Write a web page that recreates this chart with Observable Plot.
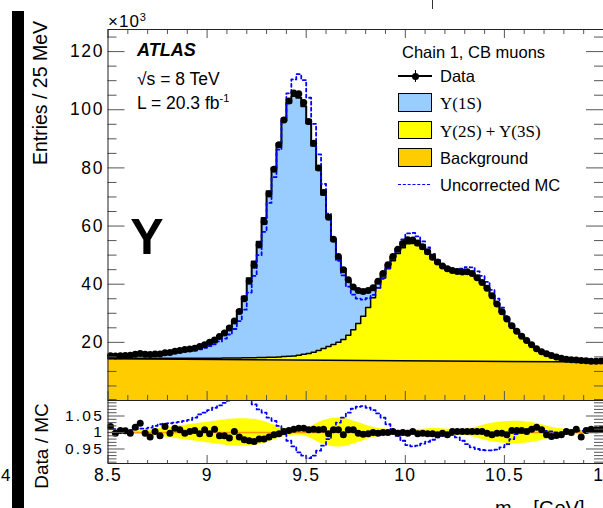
<!DOCTYPE html>
<html><head><meta charset="utf-8">
<script src="https://cdn.jsdelivr.net/npm/d3@7"></script>
<script src="https://cdn.jsdelivr.net/npm/@observablehq/plot@0.6"></script>
<style>
body{margin:0;background:#fff;}
#wrap{position:relative;width:603px;height:508px;overflow:hidden;background:#fff;font-family:"Liberation Sans",Arial,sans-serif;color:#000;}
.abs{position:absolute;white-space:nowrap;line-height:1;}
.plot{position:absolute;left:0;}
#mainp g[aria-label="y-axis tick label"] text{letter-spacing:1.6px;}
#ratiop g[aria-label="y-axis tick label"] text{letter-spacing:2.2px;}
.plot g[aria-label="x-axis tick label"] text{letter-spacing:1.2px;}
</style></head><body><div id="wrap"></div>
<script>
// ---- data (thousands of entries per 25 MeV bin, 8.5 - 11 GeV) ----
const binStart = 8.5, binWidth = 0.025;
const dataCounts = [15.4,15.3,15.4,15.5,15.6,15.9,16.2,15.9,15.8,16.0,
16.0,16.4,16.5,16.9,17.2,17.5,17.7,18.0,18.6,19.2,
20.0,20.8,22.0,23.2,24.9,27.3,30.6,35.0,41.0,46.5,
53.5,61.5,71.0,79.5,88.0,96.5,103.0,105.8,105.5,102.5,
96.0,88.5,80.0,71.5,63.0,55.5,49.5,45.0,41.5,39.0,
37.8,37.5,37.8,38.8,41.0,43.7,46.7,49.5,52.0,54.0,
55.3,55.2,54.2,52.9,51.2,49.3,47.6,46.3,45.3,44.7,
44.4,44.2,44.3,43.7,42.2,40.6,38.6,36.0,33.2,30.5,
28.0,25.7,23.8,22.1,20.6,19.2,17.8,16.8,16.1,15.5,
15.0,14.5,14.2,14.0,13.9,13.8,13.7,13.5,13.5,13.6];
// data / MC ratio
const ratioDataMC = [1.018,0.998,1.006,1.005,0.998,1.016,1.028,0.998,0.986,1.003,
0.990,1.018,0.998,1.013,1.008,0.998,1.003,1.006,0.996,1.008,
0.996,1.010,0.990,0.990,0.983,1.003,0.986,0.978,0.975,0.973,
0.980,0.980,0.986,0.993,0.996,1.003,1.006,1.010,1.013,1.013,
1.008,1.010,1.008,1.010,0.996,1.008,1.008,0.993,1.008,1.008,
0.998,0.995,0.996,1.000,0.998,1.000,1.000,1.003,0.998,1.000,
0.998,1.003,0.996,0.998,0.996,0.996,0.993,0.998,0.993,1.003,
1.003,1.003,1.003,1.003,1.003,1.003,0.998,0.993,0.998,0.998,
0.993,1.006,1.006,1.006,1.003,1.010,1.016,1.008,0.993,0.988,
0.991,0.993,1.003,1.000,1.010,0.986,1.006,1.010,1.008,1.010];
// top of the Upsilon(2S)+Upsilon(3S) stack (background + 2S + 3S)
const yellowTop = [14.5,14.5,14.5,14.5,14.5,14.5,14.5,14.5,14.5,14.5,
14.5,14.5,14.5,14.5,14.5,14.5,14.5,14.5,14.5,14.5,
14.5,14.5,14.5,14.6,14.6,14.6,14.6,14.7,14.7,14.7,
14.8,14.8,14.9,14.9,15.0,15.1,15.2,15.3,15.6,15.9,
16.2,16.6,17.2,17.9,18.6,19.3,20.0,21.0,22.4,24.3,
26.5,29.0,32.0,35.3,38.8,42.1,45.3,48.1,50.6,52.5,
53.9,54.0,53.3,52.1,50.5,48.7,47.1,45.8,44.9,44.3,
44.0,43.8,43.9,43.4,41.9,40.3,38.4,35.8,33.0,30.3,
27.8,25.5,23.6,21.9,20.4,19.0,17.6,16.6,15.9,15.3,
14.8,14.3,14.0,13.8,13.7,13.6,13.45,13.35,13.3,13.25];
// data / uncorrected MC
const ratioUncorr = [1.015,1.01,1.008,1.008,1.008,1.01,1.012,1.012,1.015,1.02,
1.025,1.027,1.028,1.03,1.032,1.035,1.038,1.045,1.055,1.06,
1.068,1.075,1.082,1.09,1.097,1.11,1.12,1.12,1.105,1.085,
1.07,1.06,1.045,1.035,1.02,0.995,0.975,0.958,0.94,0.93,
0.922,0.93,0.945,0.96,0.98,1.005,1.03,1.045,1.06,1.072,
1.078,1.08,1.075,1.068,1.058,1.045,1.025,1.005,0.99,0.975,
0.962,0.958,0.96,0.966,0.972,0.978,0.985,0.99,0.995,0.992,
0.985,0.975,0.965,0.955,0.95,0.947,0.946,0.946,0.948,0.955,
0.965,0.98,0.995,1.005,1.008,1.01,1.01,1.008,1.005,1.003,
1.0,1.0,1.002,1.003,1.005,1.005,1.005,1.008,1.01,1.01];
// MC uncertainty band half-width in the ratio
const bandErr = [0.004,0.004,0.004,0.004,0.005,0.005,0.005,0.006,0.008,0.010,
0.012,0.014,0.016,0.018,0.020,0.022,0.024,0.026,0.028,0.030,
0.032,0.034,0.036,0.038,0.040,0.041,0.042,0.042,0.041,0.040,
0.037,0.033,0.028,0.023,0.018,0.013,0.010,0.008,0.008,0.010,
0.015,0.022,0.030,0.036,0.040,0.043,0.044,0.043,0.040,0.035,
0.030,0.025,0.020,0.016,0.013,0.011,0.009,0.008,0.008,0.008,
0.008,0.008,0.009,0.010,0.011,0.012,0.012,0.011,0.010,0.009,
0.008,0.008,0.010,0.013,0.017,0.021,0.025,0.028,0.030,0.032,
0.033,0.034,0.034,0.033,0.032,0.030,0.027,0.024,0.020,0.016,
0.013,0.011,0.009,0.008,0.007,0.007,0.006,0.006,0.006,0.006];
// background line end points
const bkgMass = [8.5, 11.0];
const bkgLevel = [14.4, 13.2];
// tick labels
const xTickLabels = [8.5, 9, 9.5, 10, 10.5, 11];
const yMainTickLabels = [20, 40, 60, 80, 100, 120];
const yRatioTickLabels = [0.95, 1, 1.05];

// ---- derived tables ----
const bins = dataCounts.map((d, i) => ({
  lo: binStart + i * binWidth, hi: binStart + (i + 1) * binWidth, c: binStart + (i + 0.5) * binWidth,
  data: d, mc: d / ratioDataMC[i], yel: yellowTop[i], unc: d / ratioUncorr[i],
  r: ratioDataMC[i], ur: ratioUncorr[i], err: bandErr[i]
}));
const steps = key => bins.flatMap(b => [{x: b.lo, y: b[key]}, {x: b.hi, y: b[key]}]);
const bkg = bkgMass.map((m, i) => ({x: m, y: bkgLevel[i]}));
const xMinor = d3.range(8.6, 11.0, 0.1).map(v => +v.toFixed(2)).filter(v => !xTickLabels.includes(v));
const yMainMinor = d3.range(5, 127, 5).filter(v => v % 20 !== 0);
const yRatioMinor = d3.range(0.91, 1.10, 0.01).map(v => +v.toFixed(2)).filter(v => !yRatioTickLabels.includes(v));

const W = 603, ML = 107.5;
const PW = W - ML;
const tickCol = "#555";
const font = {fontFamily: "Liberation Sans, Arial, sans-serif", fontSize: "18px", color: "#000", background: "transparent", overflow: "visible"};

// ---- main panel ----
const mainTop = 29, mainH = 371;
const main = Plot.plot({
  width: W, height: mainTop + mainH + 1, marginLeft: ML, marginRight: 0, marginTop: mainTop, marginBottom: 1,
  x: {domain: [8.5, 11], axis: null}, y: {domain: [0, 127.6]},
  style: font,
  marks: [
    Plot.areaY(steps("mc"), {x: "x", y1: 0, y2: "y", fill: "#99ccff"}),
    Plot.areaY(steps("yel"), {x: "x", y1: 0, y2: "y", fill: "#ffff00"}),
    Plot.areaY(bkg, {x: "x", y1: 0, y2: "y", fill: "#ffcc00"}),
    Plot.line(steps("yel"), {x: "x", y: "y", stroke: "#000", strokeWidth: 1.5}),
    Plot.line(bkg, {x: "x", y: "y", stroke: "#000", strokeWidth: 1.5}),
    Plot.line(steps("mc"), {x: "x", y: "y", stroke: "#000", strokeWidth: 2}),
    Plot.line(steps("unc"), {x: "x", y: "y", stroke: "#0000ff", strokeWidth: 1.8, strokeDasharray: "3,3"}),
    Plot.dot(bins, {x: "c", y: "data", r: 3.5, fill: "#000"}),
    Plot.ruleX(xTickLabels, {insetTop: mainH - 9, stroke: tickCol}),
    Plot.ruleX(xMinor, {insetTop: mainH - 5, stroke: tickCol}),
    Plot.ruleX(xTickLabels, {insetBottom: mainH - 9, stroke: tickCol}),
    Plot.ruleX(xMinor, {insetBottom: mainH - 5, stroke: tickCol}),
    Plot.ruleY(yMainTickLabels, {insetRight: PW - 17, stroke: tickCol}),
    Plot.ruleY(yMainMinor, {insetRight: PW - 9, stroke: tickCol}),
    Plot.ruleY(yMainTickLabels, {insetLeft: PW - 17, stroke: tickCol}),
    Plot.ruleY(yMainMinor, {insetLeft: PW - 9, stroke: tickCol}),
    Plot.frame({stroke: "#222"}),
    Plot.axisY(yMainTickLabels, {tickSize: 0, tickPadding: 4, label: null, fontSize: 17.5})
  ]
});
main.classList.add("plot"); main.id = "mainp"; main.style.top = "0px";

// ---- ratio panel ----
const rTop = 400, rH = 63, rBottom = 45;
const ratio = Plot.plot({
  width: W, height: rH + rBottom, marginLeft: ML, marginRight: 0, marginTop: 0, marginBottom: rBottom,
  x: {domain: [8.5, 11]}, y: {domain: [0.906, 1.097]},
  style: font,
  marks: [
    Plot.areaY(bins, {x: "c", y1: d => 1 - d.err, y2: d => 1 + d.err, fill: "#ffff00"}),
    Plot.ruleY([1], {stroke: "#ff9900", strokeWidth: 1.5}),
    Plot.line(steps("ur"), {x: "x", y: "y", stroke: "#0000ff", strokeWidth: 1.8, strokeDasharray: "3,3", clip: true}),
    Plot.dot(bins, {x: "c", y: "r", r: 3.5, fill: "#000", clip: true}),
    Plot.ruleX(xTickLabels, {insetTop: rH - 8, stroke: tickCol}),
    Plot.ruleX(xMinor, {insetTop: rH - 3, stroke: tickCol}),
    Plot.ruleY(yRatioTickLabels, {insetRight: PW - 17, stroke: tickCol}),
    Plot.ruleY(yRatioMinor, {insetRight: PW - 9, stroke: tickCol}),
    Plot.ruleY(yRatioTickLabels, {insetLeft: PW - 17, stroke: tickCol}),
    Plot.ruleY(yRatioMinor, {insetLeft: PW - 9, stroke: tickCol}),
    Plot.frame({stroke: "#222"}),
    Plot.axisY(yRatioTickLabels, {tickSize: 0, tickPadding: 4, label: null, fontSize: 15.5, tickFormat: d => String(d)}),
    Plot.axisX(xTickLabels, {tickSize: 0, tickPadding: 5, label: null, fontSize: 17.5, tickFormat: d => String(d)})
  ]
});
ratio.classList.add("plot"); ratio.id = "ratiop"; ratio.style.top = rTop + "px";

const wrap = document.getElementById("wrap");
wrap.appendChild(main);
wrap.appendChild(ratio);

// ---- annotations & legend ----
const ov = document.createElement("div");
ov.innerHTML = `
<div class="abs" style="left:12px;top:11px;width:11.5px;height:497px;background:#000"></div>
<div class="abs" style="left:431.5px;top:0;width:1.5px;height:9px;background:#333"></div>
<div class="abs" style="left:1px;top:475px;transform:translateY(-50%);font-size:17px">4</div>
<div class="abs" style="left:41px;top:93px;transform:translate(-50%,-50%) rotate(-90deg);font-size:19.5px">Entries / 25 MeV</div>
<div class="abs" style="left:41px;top:446px;transform:translate(-50%,-50%) rotate(-90deg);font-size:19px">Data / MC</div>
<div class="abs" style="left:108px;top:21px;transform:translateY(-50%);font-size:17px;letter-spacing:1px">×10<sup style="font-size:11px;vertical-align:6px">3</sup></div>
<div class="abs" style="left:137px;top:50px;transform:translateY(-50%);font-size:18px;font-weight:bold;font-style:italic">ATLAS</div>
<div class="abs" style="left:137px;top:80px;transform:translateY(-50%);font-size:17.5px">√s = 8 TeV</div>
<div class="abs" style="left:137px;top:103px;transform:translateY(-50%);font-size:17.5px">L = 20.3 fb<sup style="font-size:11px;vertical-align:7px">-1</sup></div>
<div class="abs" style="left:147px;top:237px;transform:translate(-50%,-50%);font-size:50px;font-weight:bold">Υ</div>
<div class="abs" style="left:402px;top:52px;transform:translateY(-50%);font-size:16.5px">Chain 1, CB muons</div>
<div class="abs" style="left:398px;top:75px;width:34px;height:1.5px;background:#000"></div>
<div class="abs" style="left:414.5px;top:70px;width:1.5px;height:12px;background:#000"></div>
<div class="abs" style="left:411.5px;top:72.5px;width:7px;height:7px;border-radius:50%;background:#000"></div>
<div class="abs" style="left:440px;top:76px;transform:translateY(-50%);font-size:16.5px">Data</div>
<div class="abs" style="left:398.3px;top:93.3px;width:31.4px;height:16.4px;background:#99ccff;border:1.5px solid #000"></div>
<div class="abs" style="left:440px;top:103px;transform:translateY(-50%);font-size:17px;font-family:'Liberation Serif',serif">Υ(1S)</div>
<div class="abs" style="left:398.3px;top:120.7px;width:31.4px;height:16.4px;background:#ffff00;border:1.5px solid #000"></div>
<div class="abs" style="left:440px;top:131px;transform:translateY(-50%);font-size:17px;font-family:'Liberation Serif',serif">Υ(2S) + Υ(3S)</div>
<div class="abs" style="left:398.3px;top:148.3px;width:31.4px;height:16.4px;background:#ffcc00;border:1.5px solid #000"></div>
<div class="abs" style="left:440px;top:158px;transform:translateY(-50%);font-size:16.5px">Background</div>
<div class="abs" style="left:398px;top:184px;width:32px;height:0;border-top:1.6px dashed #0000ff"></div>
<div class="abs" style="left:440px;top:185px;transform:translateY(-50%);font-size:16.5px">Uncorrected MC</div>
<div class="abs" style="left:495px;top:497px;font-size:20px;line-height:1.1">m<sub style="font-size:14px">μμ</sub> [GeV]</div>
`;
wrap.appendChild(ov);
</script></body></html>
